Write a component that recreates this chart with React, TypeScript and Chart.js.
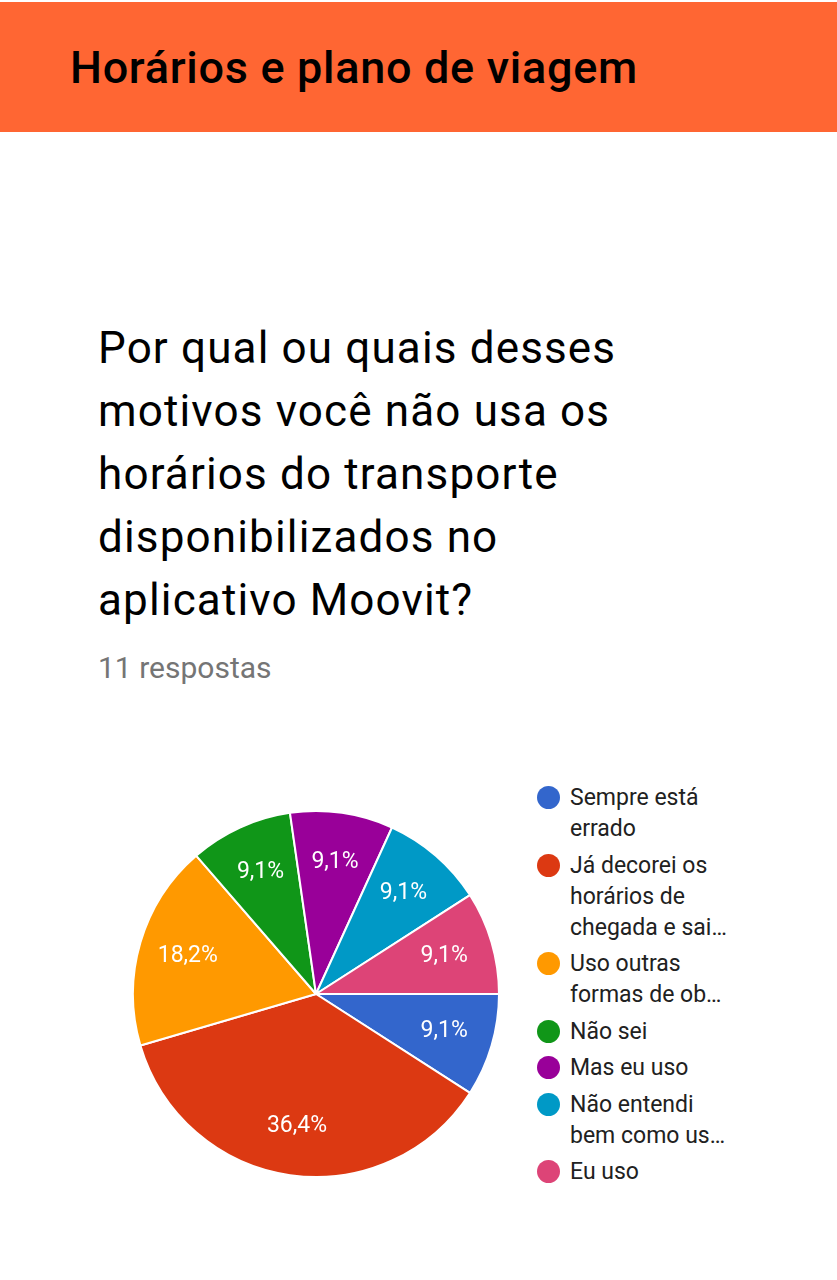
import React, { useEffect, useRef } from "react";
import { Chart, registerables } from "chart.js";

Chart.register(...registerables);

const pageTitle = "Horários e plano de viagem";
const questionLines = [
  "Por qual ou quais desses",
  "motivos você não usa os",
  "horários do transporte",
  "disponibilizados no",
  "aplicativo Moovit?",
];
const responsesText = "11 respostas";
const categories = [
  "Sempre está errado",
  "Já decorei os horários de chegada e sai…",
  "Uso outras formas de ob…",
  "Não sei",
  "Mas eu uso",
  "Não entendi bem como us…",
  "Eu uso",
];
const legendLines = [
  ["Sempre está", "errado"],
  ["Já decorei os", "horários de", "chegada e sai…"],
  ["Uso outras", "formas de ob…"],
  ["Não sei"],
  ["Mas eu uso"],
  ["Não entendi", "bem como us…"],
  ["Eu uso"],
];
const counts = [1, 4, 2, 1, 1, 1, 1];
const colors = ["#3366CC", "#DC3912", "#FF9900", "#109618", "#990099", "#0099C6", "#DD4477"];

const FONT = "Roboto, 'Noto Sans', sans-serif";

const sliceLabels = {
  id: "sliceLabels",
  afterDatasetsDraw(chart: any) {
    const ctx = chart.ctx;
    const meta = chart.getDatasetMeta(0);
    const data = chart.data.datasets[0].data as number[];
    const total = data.reduce((a, b) => a + b, 0);
    ctx.save();
    ctx.font = `23px ${FONT}`;
    ctx.fillStyle = "#ffffff";
    ctx.textAlign = "center";
    ctx.textBaseline = "middle";
    meta.data.forEach((arc: any, i: number) => {
      const { x, y, startAngle, endAngle, outerRadius } = arc.getProps(
        ["x", "y", "startAngle", "endAngle", "outerRadius"],
        true
      );
      const mid = (startAngle + endAngle) / 2;
      const r = outerRadius * 0.73;
      const text = ((data[i] / total) * 100).toFixed(1).replace(".", ",") + "%";
      ctx.fillText(text, x + Math.cos(mid) * r, y + Math.sin(mid) * r);
    });
    ctx.restore();
  },
};

export default function App() {
  const canvasRef = useRef<HTMLCanvasElement | null>(null);

  useEffect(() => {
    if (!canvasRef.current) return;
    const chart = new Chart(canvasRef.current, {
      type: "pie",
      data: {
        labels: categories,
        datasets: [
          {
            data: counts,
            backgroundColor: colors,
            borderColor: "#ffffff",
            borderWidth: 2,
            hoverBorderWidth: 2,
          },
        ],
      },
      options: {
        animation: false,
        responsive: false,
        devicePixelRatio: 1,
        rotation: 90,
        layout: { padding: 0 },
        plugins: {
          legend: { display: false },
          tooltip: { enabled: false },
        },
      },
      plugins: [sliceLabels],
    });
    return () => chart.destroy();
  }, []);

  return (
    <div
      style={{
        position: "absolute",
        left: 0,
        top: 0,
        width: 837,
        height: 1280,
        background: "#ffffff",
        overflow: "hidden",
        fontFamily: FONT,
      }}
    >
      <div
        style={{
          position: "absolute",
          left: 0,
          top: 2,
          width: 837,
          height: 130,
          background: "#FF6633",
        }}
      />
      <div
        style={{
          position: "absolute",
          left: 70,
          top: 45,
          fontSize: 45,
          lineHeight: "45px",
          fontWeight: 500,
          letterSpacing: "0.7px",
          color: "#000000",
          whiteSpace: "nowrap",
        }}
      >
        {pageTitle}
      </div>
      <div
        style={{
          position: "absolute",
          left: 98,
          top: 317,
          fontSize: 44,
          lineHeight: "63px",
          letterSpacing: "1.15px",
          color: "#000000",
          whiteSpace: "nowrap",
        }}
      >
        {questionLines.map((l, i) => (
          <div key={i}>{l}</div>
        ))}
      </div>
      <div
        style={{
          position: "absolute",
          left: 98,
          top: 653,
          fontSize: 30,
          lineHeight: "30px",
          color: "#757575",
          whiteSpace: "nowrap",
        }}
      >
        {responsesText}
      </div>
      <canvas
        ref={canvasRef}
        width={368}
        height={368}
        style={{ position: "absolute", left: 132, top: 810, width: 368, height: 368 }}
      />
      <div style={{ position: "absolute", left: 537, top: 782 }}>
        {legendLines.map((lines, i) => (
          <div key={i} style={{ position: "relative", paddingLeft: 33, marginBottom: 5.5 }}>
            <span
              style={{
                position: "absolute",
                left: 0,
                top: 4,
                width: 23,
                height: 23,
                borderRadius: "50%",
                background: colors[i],
              }}
            />
            {lines.map((l, j) => (
              <div
                key={j}
                style={{ fontSize: 23, lineHeight: "31px", color: "#212121", whiteSpace: "nowrap" }}
              >
                {l}
              </div>
            ))}
          </div>
        ))}
      </div>
    </div>
  );
}
